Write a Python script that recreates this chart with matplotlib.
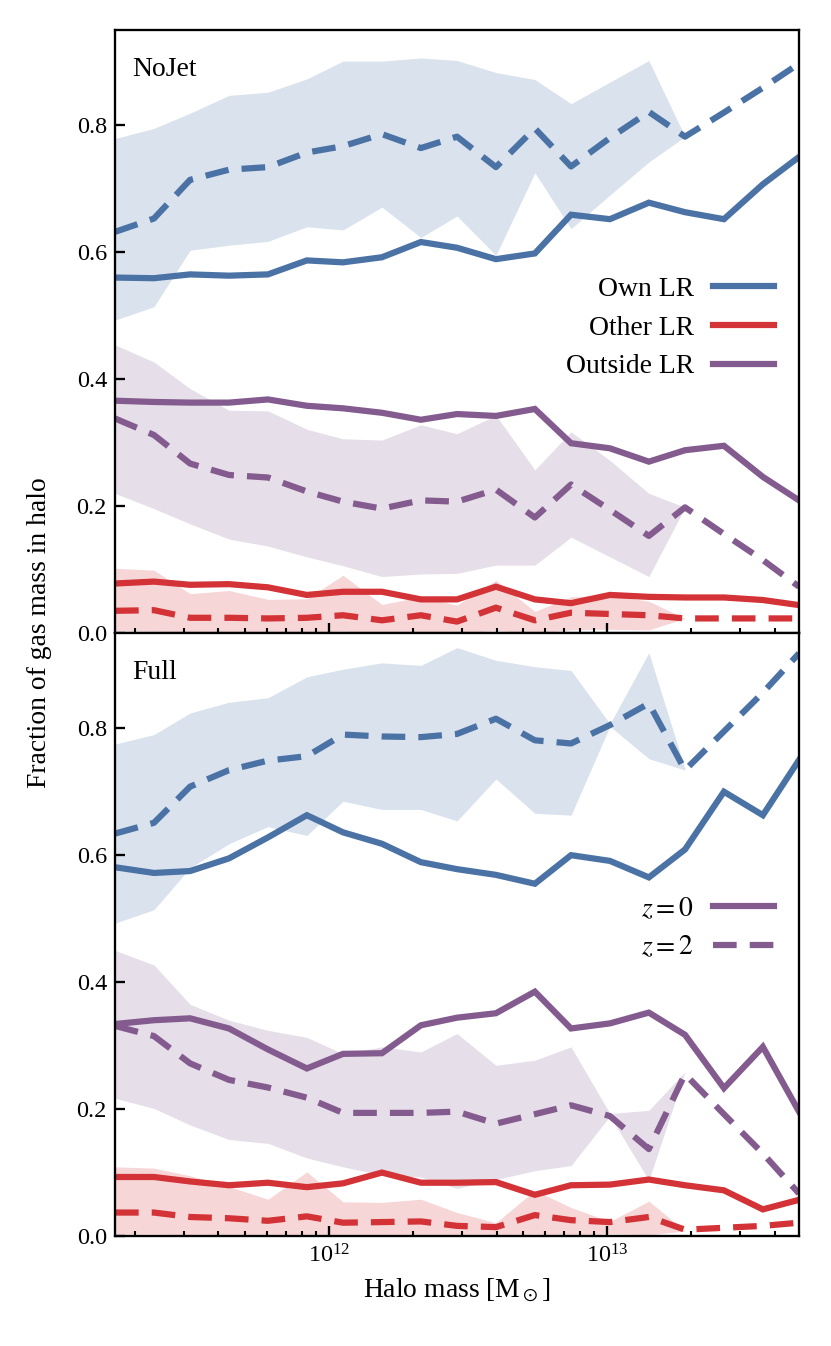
import numpy as np
import matplotlib.pyplot as plt
from matplotlib.lines import Line2D

plt.rcParams['font.family'] = ['Liberation Serif', 'DejaVu Serif']
plt.rcParams['mathtext.fontset'] = 'stix'

nan = np.nan

# log10 of halo mass bin centres
log_mass = [11.23, 11.37, 11.50, 11.64, 11.78, 11.92, 12.05, 12.19, 12.33, 12.46,
            12.60, 12.74, 12.87, 13.01, 13.15, 13.28, 13.42, 13.56, 13.69]

# ---- NoJet ----
own_z0_nojet = [0.560, 0.559, 0.565, 0.563, 0.565, 0.587, 0.584, 0.592, 0.616, 0.607,
                0.589, 0.598, 0.659, 0.652, 0.678, 0.663, 0.652, 0.707, 0.750]
own_z2_nojet = [0.632, 0.653, 0.714, 0.730, 0.734, 0.757, 0.767, 0.786, 0.764, 0.782,
                0.734, 0.795, 0.735, 0.780, 0.821, 0.782, 0.820, 0.859, 0.897]
own_lo_nojet = [0.493, 0.514, 0.603, 0.611, 0.617, 0.640, 0.635, 0.671, 0.623, 0.657,
                0.595, 0.725, 0.637, 0.690, 0.742, 0.782, nan, nan, nan]
own_hi_nojet = [0.779, 0.795, 0.819, 0.847, 0.852, 0.873, 0.901, 0.901, 0.906, 0.902,
                0.883, 0.872, 0.834, 0.868, 0.902, 0.782, nan, nan, nan]

oth_z0_nojet = [0.078, 0.081, 0.076, 0.077, 0.072, 0.060, 0.065, 0.065, 0.053, 0.053,
                0.073, 0.053, 0.047, 0.060, 0.057, 0.056, 0.056, 0.052, 0.044]
oth_z2_nojet = [0.035, 0.036, 0.024, 0.024, 0.023, 0.024, 0.028, 0.020, 0.028, 0.018,
                0.040, 0.020, 0.032, 0.030, 0.028, 0.023, 0.023, 0.023, 0.023]
oth_lo_nojet = [0.004, 0.003, 0.002, 0.002, 0.002, 0.002, 0.003, 0.000, 0.002, 0.000,
                0.004, 0.000, 0.005, 0.006, 0.005, 0.023, nan, nan, nan]
oth_hi_nojet = [0.102, 0.099, 0.062, 0.067, 0.053, 0.054, 0.091, 0.045, 0.057, 0.044,
                0.083, 0.034, 0.057, 0.060, 0.050, 0.023, nan, nan, nan]

out_z0_nojet = [0.366, 0.364, 0.363, 0.363, 0.368, 0.358, 0.354, 0.347, 0.336, 0.345,
                0.342, 0.353, 0.299, 0.291, 0.270, 0.288, 0.295, 0.246, 0.209]
out_z2_nojet = [0.338, 0.312, 0.267, 0.249, 0.245, 0.223, 0.207, 0.196, 0.209, 0.207,
                0.226, 0.182, 0.234, 0.194, 0.153, 0.198, 0.156, 0.115, 0.073]
out_lo_nojet = [0.220, 0.196, 0.172, 0.148, 0.137, 0.120, 0.106, 0.089, 0.093, 0.094,
                0.107, 0.107, 0.151, 0.120, 0.089, 0.198, nan, nan, nan]
out_hi_nojet = [0.454, 0.427, 0.385, 0.351, 0.350, 0.321, 0.306, 0.304, 0.328, 0.314,
                0.343, 0.257, 0.317, 0.272, 0.220, 0.198, nan, nan, nan]

# ---- Full ----
own_z0_full = [0.581, 0.572, 0.575, 0.595, 0.628, 0.663, 0.636, 0.618, 0.589, 0.578,
               0.569, 0.555, 0.600, 0.591, 0.565, 0.609, 0.700, 0.663, 0.750]
own_z2_full = [0.634, 0.651, 0.708, 0.734, 0.749, 0.756, 0.790, 0.787, 0.786, 0.791,
               0.815, 0.781, 0.776, 0.805, 0.839, 0.734, 0.795, 0.856, 0.918]
own_lo_full = [0.493, 0.514, 0.580, 0.618, 0.645, 0.631, 0.685, 0.672, 0.672, 0.654,
               0.720, 0.666, 0.663, 0.803, 0.752, 0.734, nan, nan, nan]
own_hi_full = [0.775, 0.790, 0.824, 0.841, 0.848, 0.881, 0.893, 0.903, 0.899, 0.927,
               0.907, 0.897, 0.891, 0.807, 0.919, 0.736, nan, nan, nan]

oth_z0_full = [0.093, 0.093, 0.086, 0.080, 0.084, 0.077, 0.083, 0.100, 0.084, 0.084,
               0.085, 0.065, 0.080, 0.081, 0.089, 0.080, 0.072, 0.042, 0.057]
oth_z2_full = [0.037, 0.037, 0.030, 0.028, 0.024, 0.031, 0.021, 0.022, 0.023, 0.016,
               0.014, 0.033, 0.025, 0.022, 0.030, 0.010, 0.013, 0.016, 0.021]
oth_lo_full = [0.003, 0.003, 0.002, 0.002, 0.000, 0.002, 0.000, 0.000, 0.000, 0.000,
               0.000, 0.003, 0.000, 0.004, 0.002, 0.008, nan, nan, nan]
oth_hi_full = [0.109, 0.107, 0.095, 0.078, 0.058, 0.101, 0.054, 0.053, 0.058, 0.037,
               0.021, 0.072, 0.045, 0.023, 0.055, 0.008, nan, nan, nan]

out_z0_full = [0.334, 0.340, 0.343, 0.327, 0.294, 0.264, 0.287, 0.288, 0.332, 0.344,
               0.351, 0.385, 0.327, 0.335, 0.352, 0.317, 0.233, 0.298, 0.196]
out_z2_full = [0.331, 0.315, 0.272, 0.246, 0.234, 0.218, 0.194, 0.194, 0.194, 0.196,
               0.177, 0.192, 0.206, 0.189, 0.137, 0.255, 0.192, 0.130, 0.067]
out_lo_full = [0.217, 0.201, 0.175, 0.152, 0.146, 0.123, 0.109, 0.096, 0.093, 0.075,
               0.089, 0.103, 0.111, 0.189, 0.088, 0.259, nan, nan, nan]
out_hi_full = [0.450, 0.427, 0.365, 0.340, 0.324, 0.313, 0.287, 0.298, 0.290, 0.319,
               0.269, 0.277, 0.298, 0.193, 0.198, 0.259, nan, nan, nan]

component_names = ["Own LR", "Other LR", "Outside LR"]
component_colors = ["#4a72a5", "#d33236", "#835b8e"]
panel_names = ["NoJet", "Full"]

LW = 2.7
DASHES = (3.8, 2.1)


def draw_panel(ax, mass, series, label):
    """
    Draws the z=0 (solid) and z=2 (dashed) lines with the z=2 scatter band
    :param series: list of (z0, z2, lo, hi) for each component
    """
    for (z0, z2, lo, hi), color in zip(series, component_colors):
        ax.fill_between(mass, lo, hi, color=color, alpha=0.2, lw=0)
    for (z0, z2, lo, hi), color in zip(series, component_colors):
        ax.plot(mass, z0, color=color, lw=LW, solid_joinstyle='miter')
        ax.plot(mass, z2, color=color, lw=LW, ls='--', dashes=DASHES)

    ax.set_xscale('log')
    ax.set_xlim(mass[0], mass[-1])
    ax.set_ylim(0, 0.95)
    ax.set_yticks([0.0, 0.2, 0.4, 0.6, 0.8])
    ax.set_yticklabels(['0.0', '0.2', '0.4', '0.6', '0.8'])
    ax.tick_params(which='major', direction='in', length=4.5, width=1.0, labelsize=10.5)
    ax.tick_params(which='minor', direction='in', length=2.3, width=0.9)
    for s in ax.spines.values():
        s.set_linewidth(1.0)
    ax.text(0.025, 0.955, label, transform=ax.transAxes, ha='left', va='top', fontsize=12)


mass = 10 ** np.array(log_mass)

fig, axs = plt.subplots(2, 1, figsize=(831 / 166, 1346 / 166), dpi=166, sharex=True)
fig.subplots_adjust(left=0.1384, right=0.9615, top=0.9777, bottom=0.0817, hspace=0)

nojet = [(own_z0_nojet, own_z2_nojet, own_lo_nojet, own_hi_nojet),
         (oth_z0_nojet, oth_z2_nojet, oth_lo_nojet, oth_hi_nojet),
         (out_z0_nojet, out_z2_nojet, out_lo_nojet, out_hi_nojet)]
full = [(own_z0_full, own_z2_full, own_lo_full, own_hi_full),
        (oth_z0_full, oth_z2_full, oth_lo_full, oth_hi_full),
        (out_z0_full, out_z2_full, out_lo_full, out_hi_full)]

draw_panel(axs[0], mass, nojet, panel_names[0])
draw_panel(axs[1], mass, full, panel_names[1])

# legends
comp_handles = [Line2D([], [], color=c, lw=LW) for c in component_colors]
axs[0].legend(comp_handles, component_names, loc='center right', bbox_to_anchor=(1.0, 0.506),
              frameon=False, markerfirst=False, fontsize=12, handlelength=2.2,
              handletextpad=0.7, labelspacing=0.48)
z_handles = [Line2D([], [], color=component_colors[2], lw=LW),
             Line2D([], [], color=component_colors[2], lw=LW, ls='--', dashes=DASHES)]
axs[1].legend(z_handles, ['$z=0$', '$z=2$'], loc='center right', bbox_to_anchor=(1.0, 0.51),
              frameon=False, markerfirst=False, fontsize=12, handlelength=2.2,
              handletextpad=0.7, labelspacing=0.48)

axs[1].set_xlabel(r'Halo mass [M$_\odot$]', fontsize=12)
fig.text(0.048, 0.53, 'Fraction of gas mass in halo', rotation=90, ha='center', va='center',
         fontsize=12)

fig.savefig('out.png', dpi=166)
